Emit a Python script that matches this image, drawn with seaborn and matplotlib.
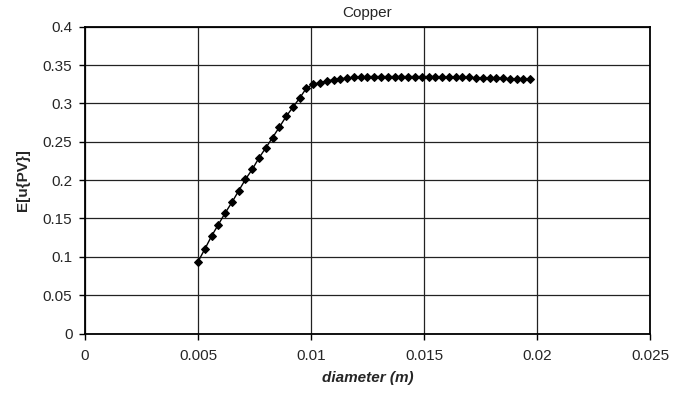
import numpy as np
import pandas as pd
import matplotlib
matplotlib.use("Agg")
import matplotlib.pyplot as plt
import seaborn as sns

# diameter values (m)
diameter = [0.0050, 0.0053, 0.0056, 0.0059, 0.0062, 0.0065, 0.0068, 0.0071, 0.0074, 0.0077,
            0.0080, 0.0083, 0.0086, 0.0089, 0.0092, 0.0095, 0.0098, 0.0101, 0.0104, 0.0107,
            0.0110, 0.0113, 0.0116, 0.0119, 0.0122, 0.0125, 0.0128, 0.0131, 0.0134, 0.0137,
            0.0140, 0.0143, 0.0146, 0.0149, 0.0152, 0.0155, 0.0158, 0.0161, 0.0164, 0.0167,
            0.0170, 0.0173, 0.0176, 0.0179, 0.0182, 0.0185, 0.0188, 0.0191, 0.0194, 0.0197]

# expected utility
e_upv = [0.0935, 0.110, 0.127, 0.142, 0.157, 0.171, 0.186, 0.201, 0.214, 0.229,
         0.242, 0.2555, 0.269, 0.283, 0.295, 0.307, 0.320, 0.325, 0.327, 0.329,
         0.331, 0.332, 0.333, 0.334, 0.3345, 0.335, 0.335, 0.335, 0.335, 0.335,
         0.335, 0.335, 0.335, 0.335, 0.335, 0.335, 0.3348, 0.3345, 0.3343, 0.334,
         0.3338, 0.3335, 0.3333, 0.333, 0.3328, 0.3325, 0.3323, 0.332, 0.3318, 0.3315]

x_ticks = [0, 0.005, 0.01, 0.015, 0.02, 0.025]
x_ticklabels = ["0", "0.005", "0.01", "0.015", "0.02", "0.025"]
y_ticks = [0, 0.05, 0.1, 0.15, 0.2, 0.25, 0.3, 0.35, 0.4]
y_ticklabels = ["0", "0.05", "0.1", "0.15", "0.2", "0.25", "0.3", "0.35", "0.4"]

df = pd.DataFrame({"diameter": diameter, "E": e_upv})

sns.set_style("white")
plt.rcParams['font.family'] = ['Liberation Sans', 'DejaVu Sans']

fig = plt.figure(figsize=(6.86, 3.96), dpi=100)
ax = fig.add_axes([0.1239, 0.1578, 0.8236, 0.7748])

sns.lineplot(data=df, x="diameter", y="E", ax=ax, color="black", linewidth=1,
             marker="D", markersize=4.3, markeredgecolor="black", markerfacecolor="black")

ax.set_xlim(0, 0.025)
ax.set_ylim(0, 0.4)
ax.set_xticks(x_ticks)
ax.set_xticklabels(x_ticklabels, fontsize=11)
ax.set_yticks(y_ticks)
ax.set_yticklabels(y_ticklabels, fontsize=11)
ax.grid(True, color="#222222", linewidth=0.9)
ax.tick_params(axis="both", direction="out", length=4, width=1, color="black",
               bottom=True, left=True)
ax.tick_params(axis="x", pad=7)
ax.tick_params(axis="y", pad=5)
for s in ax.spines.values():
    s.set_color("black")
    s.set_linewidth(1.3)

ax.set_title("Copper", fontsize=11, pad=7)
ax.set_xlabel("diameter (m)", fontsize=11, fontweight="bold", fontstyle="italic", labelpad=6)
ax.set_ylabel("E[u{PV}]", fontsize=11, fontweight="bold", labelpad=9)

fig.savefig("out.png", dpi=100)
